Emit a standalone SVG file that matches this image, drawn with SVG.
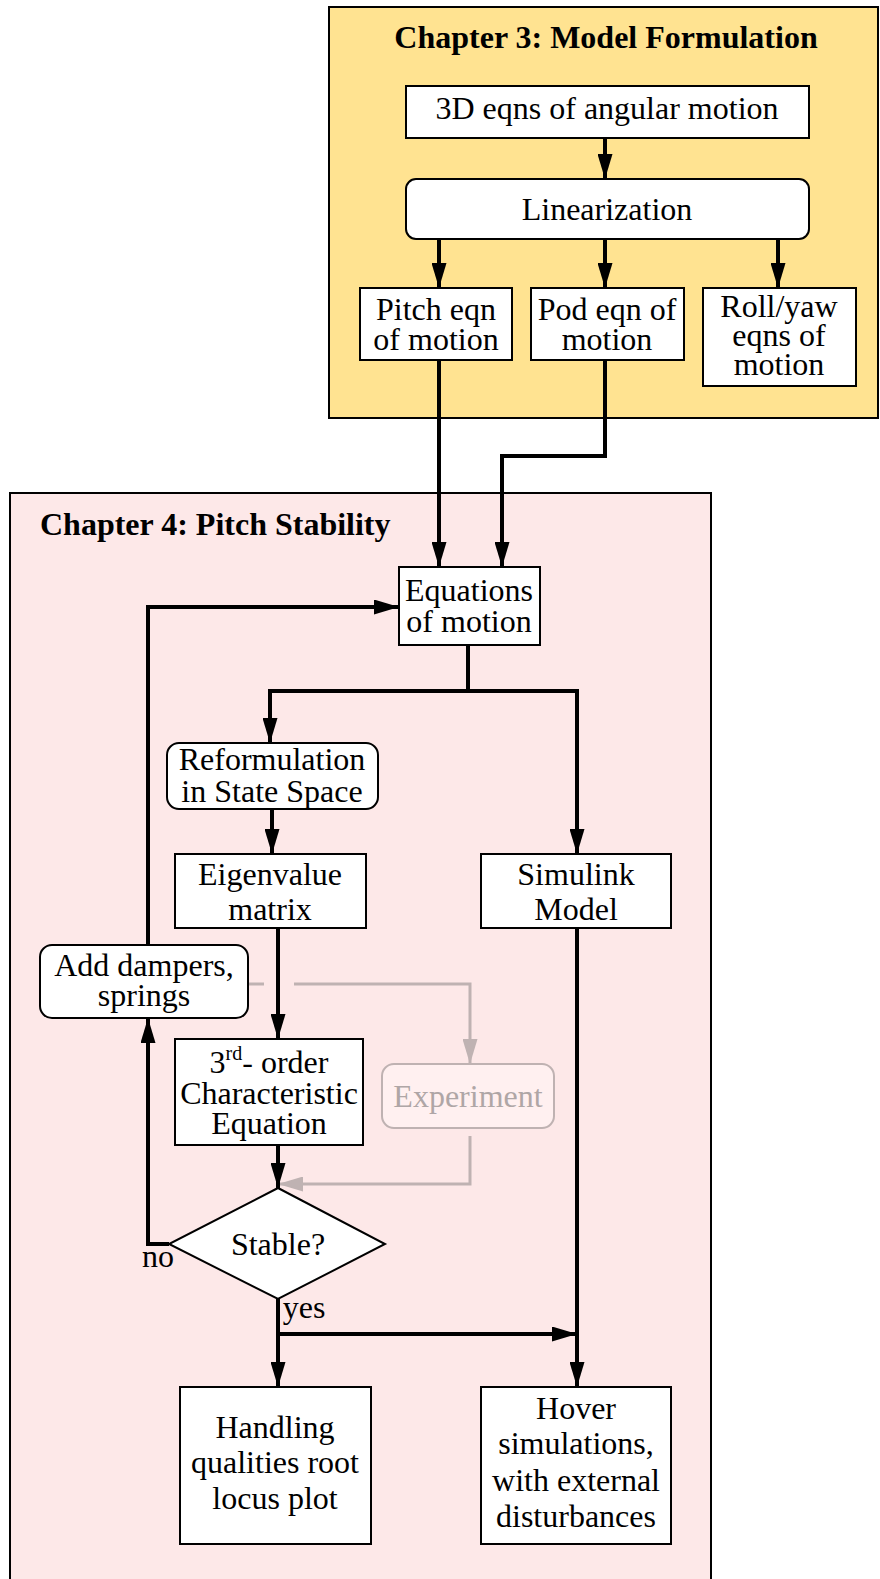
<svg xmlns="http://www.w3.org/2000/svg" width="880" height="1579" viewBox="0 0 880 1579">
<defs>
<marker id="ah" markerUnits="userSpaceOnUse" markerWidth="26" markerHeight="15" refX="25" refY="7.5" orient="auto" viewBox="0 0 26 15"><path d="M0,0 L25,7.5 L0,15 z" fill="#000"/></marker>
<marker id="ahg" markerUnits="userSpaceOnUse" markerWidth="26" markerHeight="15" refX="25" refY="7.5" orient="auto" viewBox="0 0 26 15"><path d="M0,0 L25,7.5 L0,15 z" fill="#BFB2B2"/></marker>
</defs>
<style>
.t{font-family:"Liberation Serif","Times New Roman",serif;font-size:32px;fill:#000;text-anchor:middle}
.h{font-family:"Liberation Serif","Times New Roman",serif;font-size:32px;font-weight:bold;fill:#000}
.b{fill:#fff;stroke:#000;stroke-width:2}
.c{fill:none;stroke:#000;stroke-width:4}
.g{fill:none;stroke:#BFB2B2;stroke-width:3}
</style>
<g id="chapter3">
<rect x="329" y="7" width="549" height="411" fill="#FFE391" stroke="#000" stroke-width="2"/>
<text class="h" x="606" y="48" text-anchor="middle">Chapter 3: Model Formulation</text>
</g>
<g id="chapter4">
<rect x="10" y="493" width="701" height="1100" fill="#FDE8E8" stroke="#000" stroke-width="2"/>
<text class="h" x="40" y="535">Chapter 4: Pitch Stability</text>
</g>
<g id="connectors">
<path class="c" d="M605,138 V179" marker-end="url(#ah)"/>
<path class="c" d="M439,239 V288" marker-end="url(#ah)"/>
<path class="c" d="M605,239 V288" marker-end="url(#ah)"/>
<path class="c" d="M778,239 V288" marker-end="url(#ah)"/>
<path class="c" d="M439,360 V567" marker-end="url(#ah)"/>
<path class="c" d="M605,360 V456 H502 V567" marker-end="url(#ah)"/>
<path class="c" d="M148,945 V607 H399" marker-end="url(#ah)"/>
<path class="c" d="M468,645 V691"/>
<path class="c" d="M468,691 H270 V743" marker-end="url(#ah)"/>
<path class="c" d="M468,691 H577 V854" marker-end="url(#ah)"/>
<path class="c" d="M272,809 V854" marker-end="url(#ah)"/>
<path class="c" d="M278,928 V1039" marker-end="url(#ah)"/>
<path class="g" d="M248,984 H264"/>
<path class="g" d="M294,984 H470 V1064" marker-end="url(#ahg)"/>
<path class="g" d="M470,1136 V1184 H278" marker-end="url(#ahg)"/>
<path class="c" d="M278,1145 V1188" marker-end="url(#ah)"/>
<path class="c" d="M169,1244 H148 V1018" marker-end="url(#ah)"/>
<path class="c" d="M278,1299 V1387" marker-end="url(#ah)"/>
<path class="c" d="M278,1334 H577" marker-end="url(#ah)"/>
<path class="c" d="M577,928 V1387" marker-end="url(#ah)"/>
</g>
<g id="n3d">
<rect class="b" x="406" y="86" width="403" height="52"/>
<text class="t" x="607" y="119">3D eqns of angular motion</text>
</g>
<g id="nlin">
<rect class="b" x="406" y="179" width="403" height="60" rx="10"/>
<text class="t" x="607" y="220">Linearization</text>
</g>
<g id="npitch">
<rect class="b" x="360" y="288" width="152" height="72"/>
<text class="t" x="436" y="320">Pitch eqn</text>
<text class="t" x="436" y="350">of motion</text>
</g>
<g id="npod">
<rect class="b" x="531" y="288" width="153" height="72"/>
<text class="t" x="607" y="320">Pod eqn of</text>
<text class="t" x="607" y="350">motion</text>
</g>
<g id="nroll">
<rect class="b" x="703" y="288" width="153" height="98"/>
<text class="t" x="779" y="317">Roll/yaw</text>
<text class="t" x="779" y="346">eqns of</text>
<text class="t" x="779" y="375">motion</text>
</g>
<g id="neq">
<rect class="b" x="399" y="567" width="141" height="78"/>
<text class="t" x="469" y="601">Equations</text>
<text class="t" x="469" y="632">of motion</text>
</g>
<g id="nreform">
<rect class="b" x="167" y="743" width="211" height="66" rx="12"/>
<text class="t" x="272" y="770">Reformulation</text>
<text class="t" x="272" y="802">in State Space</text>
</g>
<g id="neigen">
<rect class="b" x="175" y="854" width="191" height="74"/>
<text class="t" x="270" y="885">Eigenvalue</text>
<text class="t" x="270" y="920">matrix</text>
</g>
<g id="nsim">
<rect class="b" x="481" y="854" width="190" height="74"/>
<text class="t" x="576" y="885">Simulink</text>
<text class="t" x="576" y="920">Model</text>
</g>
<g id="nadd">
<rect class="b" x="40" y="945" width="208" height="73" rx="12"/>
<text class="t" x="144" y="976">Add dampers,</text>
<text class="t" x="144" y="1006">springs</text>
</g>
<g id="n3rd">
<rect class="b" x="175" y="1039" width="188" height="106"/>
<text class="t" x="269" y="1073">3<tspan font-size="20" dy="-13">rd</tspan><tspan dy="13">- order</tspan></text>
<text class="t" x="269" y="1104">Characteristic</text>
<text class="t" x="269" y="1134">Equation</text>
</g>
<g id="nexp">
<rect x="382" y="1064" width="172" height="64" rx="12" fill="#FFF0F0" stroke="#BFB2B2" stroke-width="2"/>
<text class="t" x="468" y="1107" style="fill:#AFA6A6">Experiment</text>
</g>
<g id="nstable">
<path d="M278,1188 L385,1244 L278,1299 L169,1244 z" class="b"/>
<text class="t" x="278" y="1255">Stable?</text>
</g>
<g id="labels">
<text class="t" x="158" y="1267">no</text>
<text class="t" x="304" y="1318">yes</text>
</g>
<g id="nhandling">
<rect class="b" x="180" y="1387" width="191" height="157"/>
<text class="t" x="275" y="1438">Handling</text>
<text class="t" x="275" y="1473">qualities root</text>
<text class="t" x="275" y="1509">locus plot</text>
</g>
<g id="nhover">
<rect class="b" x="481" y="1387" width="190" height="157"/>
<text class="t" x="576" y="1419">Hover</text>
<text class="t" x="576" y="1454">simulations,</text>
<text class="t" x="576" y="1491">with external</text>
<text class="t" x="576" y="1527">disturbances</text>
</g>
</svg>
